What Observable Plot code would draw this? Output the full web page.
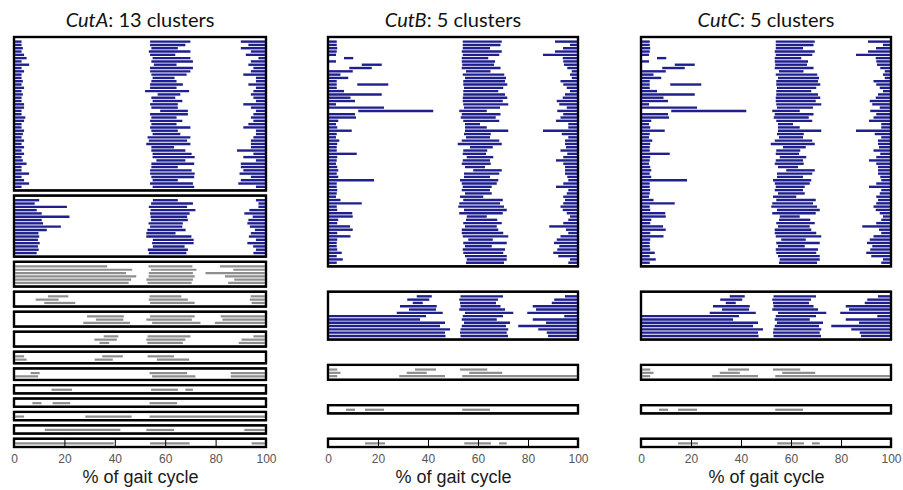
<!DOCTYPE html>
<html><head><meta charset="utf-8">
<script src="https://cdn.jsdelivr.net/npm/d3@7"></script>
<script src="https://cdn.jsdelivr.net/npm/@observablehq/plot@0.6"></script>
<style>
body{margin:0;background:#fff;}
#wrap{position:relative;width:903px;height:490px;overflow:hidden;background:#fff;}
.panel{position:absolute;top:0;width:300px;}
.title{position:absolute;top:0;height:30px;line-height:30px;padding-top:4px;text-align:center;font-family:Lato,"Open Sans",sans-serif;font-size:20px;color:#111;white-space:nowrap;}
.panel svg{position:absolute;top:30px;left:0;overflow:visible;}
</style></head>
<body><div id="wrap"></div>
<script>
// ---------- tick labels ----------
const xTicks = [0, 20, 40, 60, 80, 100];
const axisLabel = "% of gait cycle";
const titles = ["CutA", "CutB", "CutC"];

// ---------- data: each row = flat list of [start,end] pairs (% of gait cycle) ----------
// CutA
const A1 = [
[0,3,54,70,90,100],[0,3,54,68,93,100],[0,3.5,54.5,65,90,100],[0,3,53.5,70,94,100],[0,4,54,64,92,100],
[0,5,55,70,97,100],[0,3,54.5,71,94,100],[0,6,55.5,64.5,93,100],[0,3,54,71,95,100],[0,4,54,70,94,100],
[0,3,54.5,68.5,91,100],[0,3,55,63.7,96,100],[0,3.5,54.5,64.5,96,100],[0,3,54,67,93,100],[0,4,54,64.5,96,100],
[0,3,52,69.5,95,100],[0,3.5,57,66,94,100],[0,3,54.5,64,95,100],[0,3,55,66.8,96,100],[0,4,54,65,91,100],
[0,4,54.5,65,94,100],[0,3,58,69,96,100],[0,3,54,69,95,100],[0,4.5,54.5,64.5,94,100],[0,4,54,66.8,95,100],
[0,3,54.5,64.5,93,100],[0,3,54,70,91,100],[0,4,54.5,65,96,100],[0,3.5,55,66,96,100],[0,3,53,70,95,100],
[0,4,53.5,68.7,94,100],[0,3,52.5,70,94,100],[0,4,54.5,63.5,94,100],[0,3,54.5,68,88.5,100],[0,4,55,70.5,95,100],
[0,3,55,71.7,91,100],[0,3.5,56.5,68,96,100],[0,5,54.5,71.5,90,100],[0,3,54.5,65,90,100],[0,3,54,70.5,91,100],
[0,6,54,71.7,89.5,100],[0,3,54.5,71.5,94,100],[0,4,55,65,90,100],[0,6,54,71,89,100],[0,3,55,71.5,96,100]
];
const A2 = [
[0,10,55.1,65,96,100],[0,8.2,54.4,71,97,100],[0,21,53.5,68.7,97,100],[0,9,54.2,72,93.4,100],
[0,11,54,69.7,91.4,100],[0,22,54.2,68.7,94.7,100],[0,11,54.4,69,93,100],[0,11.5,53.4,67,92.6,100],
[0,18.6,54,66.8,93.6,100],[0,13,52.9,68.1,95.6,100],[0,9.7,52.5,64.1,94,100],[0,10,52.5,70.4,93.2,100],
[0,9.5,55.1,71.3,96,100],[0,10.2,54.8,71.3,92.6,100],[0,9.5,55.1,67.7,94.9,100],[0,9.8,53.1,69,96,100],
[0,9,53.5,68.4,95,100]
];
const A3 = [
[0,37,53.4,70.8,81.7,100],[0,46.9,54.4,72.4,87,100],[0,44.5,53.5,71,76,100],
[0,48.5,53.4,71.7,83.7,100],[0,46.5,52.5,71,87.4,100],[0,45.5,53,70.5,85,100]
];
const A4 = [[13.5,21.6,53.8,66.4,93.9,100],[8.6,17.7,53.5,69,93.6,100],[12,24.3,54,71.7,94.3,100]];
const A5 = [[29,43.6,54,71.7,82,100],[32.5,43.4,52.5,70.6,82.7,100],[27.5,46,54.8,74,79.7,100]];
const A6 = [[35.6,41.4,53,70,95,100],[31.9,40.8,52.5,68,90.3,100],[33.9,37.8,52.9,67,89.2,100]];
const A7 = [[0,4,35,43.2,53,63.5],[0,5,32,39.2,56.7,69.5]];
const A8 = [[6.6,10.2,53.8,68.7,86,100],[0,9.6,54.8,72,86,100]];
const A9 = [[14.9,23,54.4,65,68,71]];
const A10 = [[7.3,10.9,15.3,22.3,53.8,64.7]];
const A11 = [[0,4,28.3,46.7,53.8,100]];
const A12 = [[12.2,42.2,52.5,63.5,91.4,100]];
const A13 = [[0,39.6,54,69.7,94.3,100]];

// CutB
const B1 = [
[0,3.5,53.9,69.5,90.8,100],[0,3.5,53.9,69,96.8,100],[0,3.7,53.9,64.8,94,100],[0,3.5,53.5,69.5,90.8,100],
[0,3.2,53.9,68.5,86,100],[6.4,10.1,53.5,64.1,93.9,100],[0,3.2,53.5,66.8,94.1,100],[13.5,21.5,53.7,66.4,94.4,100],
[8.5,17.5,53.5,69,95.7,100],[0,9.9,55.2,65,97.5,100],[0,5,53.9,70.5,96.8,100],[0,8.1,54.8,71.2,97.5,100],
[0,3.5,54.1,70.8,93,100],[0,3.5,11.7,24.1,54.1,71.7,94.1,100],[0,3.5,54.4,70.1,95.5,100],[0,6.4,54.1,68.1,96.8,100],
[0,21.5,54.1,70.8,94.8,100],[0,9,53.9,71.7,93.9,100],[0,10.8,53.9,69.9,91.5,100],[0,3.2,54.1,72.1,92.5,100],
[0,22.4,54.4,68.8,95.5,100],[12.1,42.1,52.5,63.5,91.7,100],[0,10.8,53.5,69,94.1,100],[0,11.2,53.1,67.1,93,100],
[0,4.1,54.1,68.5,91.2,100],[0,3.2,54.8,60.8,96.1,100],[0,3.7,54.8,63.5,96.1,100],[0,9.5,54.8,72.1,86,100],
[0,3.5,54.4,65.1,93.5,100],[0,3.2,55.2,64.8,96.1,100],[0,4.5,53.5,68.5,94.8,100],[0,3.7,51.9,69.5,94.8,100],
[0,3.5,56.8,65.9,95.2,100],[0,3.5,54.1,63.7,93,100],[0,11.5,53.9,63.2,95.7,100],[0,3.7,55.5,66.1,94.1,100],
[0,3.5,53.9,64.8,91.2,100],[0,3.2,53.5,65.1,94.1,100],[0,3.7,54.8,62.8,94.8,100],[0,4.1,58.1,69.5,94.8,100],
[0,3.5,54.4,68.5,94.8,100],[0,4.1,54.4,64.8,95.7,100],[0,18.4,52.8,68.1,96.1,100],[0,3.5,53.5,67.5,94.1,100],
[0,3.5,53.9,65.5,91.2,100],[0,3.7,53.5,64.8,96.1,100],[0,3.5,54.8,65.5,95.5,100],[0,3.2,52.8,62.1,94.1,100],
[0,5,54.1,69.9,94.8,100],[0,13.5,52.5,68.8,94.1,100],[0,3.5,52.1,70.4,93,100],[0,3.7,54.4,71.5,93.9,100],
[0,9.7,52.5,69.9,95.5,100],[0,9.9,55.5,63.5,96.8,100],[0,4.1,55.2,67.7,96.1,100],[0,3.7,54.1,69.5,94.1,100],
[0,8.8,54.8,67.5,88.5,100],[0,9.9,53.5,68.1,95.2,100],[0,3.7,53.5,70.1,96.1,100],[0,9,53.9,72.1,93,100],
[0,3.7,56.1,65.9,91.5,100],[0,3.5,54.1,71.5,90.4,100],[0,3.5,54.8,65.5,92.5,100],[0,3.7,53.9,70.8,91.7,100],
[0,5.5,54.1,70.1,90.1,100],[0,3.5,54.8,71.5,92.1,100],[0,5.9,55.5,71.5,96.8,100],[0,3.5,55.2,70.4,96.1,100]
];
const B2 = [
[35.5,41.5,53,70,94.8,100],[31.7,40.5,52.5,68,90.5,100],[33.9,37.9,52.8,67.2,89.5,100],
[28.8,43.5,53,69,81.9,100],[32.4,43.2,52.5,70.8,83.2,100],[27.5,45.9,54.8,74.1,79.7,100],
[0,39.2,53.9,70,94.5,100],[0,36.8,53.5,67.5,81.9,100],[0,46.8,54.4,72.8,87.2,100],
[0,44.8,53.5,71.2,76.1,100],[0,48.8,53,72.1,84.1,100],[0,46.8,52.8,71.5,87.5,100],[0,47,53,72,88,100]
];
const B3 = [[0,3.7,34.8,43.2,52.8,63.7],[0,5,31.5,39.5,56.5,69.7],[0,3.7,28.5,46.8,53.7,100]];
const B4 = [[7.2,10.8,14.8,22.4,53.7,64.8]];
const B5 = [[14.8,22.8,54.5,65.2,68.4,71.5]];

// CutC (same clustering as CutB in the figure)
const C1 = B1, C2 = B2, C3 = B3, C4 = B4, C5 = B5;

// cluster membership per panel and which clusters are highlighted (blue)
const cutA = [A1, A2, A3, A4, A5, A6, A7, A8, A9, A10, A11, A12, A13];
const cutB = [B1, B2, B3, B4, B5];
const cutC = [C1, C2, C3, C4, C5];
const highlighted = [true, true, false, false, false, false, false, false, false, false, false, false, false];

// ---------- styles / layout ----------
const BLUE = "#1f1f8e", GRAY = "#8e8e8e";
const FRAME_H = 410;   // px from first box top to last box bottom
const ROW_PX = 3.3;    // px per trace row
const PAD = 0.75;      // row units of padding inside each box
const FONT = "'Liberation Sans', Arial, sans-serif";

function layout(clusters) {
  const nRows = d3.sum(clusters, c => c.length);
  const totalUnits = FRAME_H / ROW_PX;
  const gap = (totalUnits - nRows - clusters.length * 2 * PAD) / (clusters.length - 1);
  let y = 0;
  const boxes = [], segs = [];
  clusters.forEach((rows, k) => {
    const top = y;
    rows.forEach((row, i) => {
      const ry = top + PAD + i + 0.5;
      for (let j = 0; j < row.length; j += 2)
        segs.push({x1: row[j], x2: row[j + 1], y: ry, blue: highlighted[k]});
    });
    const bottom = top + 2 * PAD + rows.length;
    boxes.push({top, bottom});
    y = bottom + gap;
  });
  return {boxes, segs, total: y - gap};
}

function panel(clusters, name, left, marginRight) {
  const {boxes, segs, total} = layout(clusters);
  const last = boxes[boxes.length - 1];
  const div = document.createElement("div");
  div.className = "panel";
  div.style.left = left + "px";
  const t = document.createElement("div");
  t.className = "title";
  t.style.left = "14px";
  t.style.width = (300 - 14 - marginRight) + "px";
  t.innerHTML = `<i>${name}</i>: ${clusters.length} clusters`;
  div.appendChild(t);
  const svg = Plot.plot({
    width: 300, height: 460,
    marginTop: 7, marginBottom: 43, marginLeft: 14, marginRight,
    style: {fontFamily: FONT, fontSize: "12px", color: "#555", background: "transparent", overflow: "visible"},
    x: {domain: [xTicks[0], xTicks[xTicks.length - 1]], axis: null},
    y: {domain: [0, total], reverse: true, axis: null},
    marks: [
      Plot.rect(boxes, {x1: () => xTicks[0], x2: () => xTicks[xTicks.length - 1], y1: "top", y2: "bottom",
                        fill: "white", stroke: "black", strokeWidth: 2.2}),
      Plot.ruleY(segs.filter(d => !d.blue), {x1: "x1", x2: "x2", y: "y", stroke: GRAY, strokeWidth: 2.2}),
      Plot.ruleY(segs.filter(d => d.blue), {x1: "x1", x2: "x2", y: "y", stroke: BLUE, strokeWidth: 2.4}),
      Plot.ruleX(xTicks.slice(1, -1), {x: d => d, y1: () => last.top, y2: () => last.bottom, stroke: "black", strokeWidth: 1}),
      Plot.rect(boxes, {x1: () => xTicks[0], x2: () => xTicks[xTicks.length - 1], y1: "top", y2: "bottom",
                        fill: "none", stroke: "black", strokeWidth: 2.2}),
      Plot.axisX(xTicks, {tickSize: 0, tickPadding: 7, label: null, fontSize: 12, fill: "#555", fontFamily: FONT}),
      Plot.text([axisLabel], {text: d => d, frameAnchor: "bottom", dy: 35, fontSize: 18, fill: "#1a1a1a", fontFamily: FONT})
    ]
  });
  div.appendChild(svg);
  document.getElementById("wrap").appendChild(div);
}

panel(cutA, titles[0], 0, 34);
panel(cutB, titles[1], 314, 36);
panel(cutC, titles[2], 627, 36);
</script>
</body></html>
